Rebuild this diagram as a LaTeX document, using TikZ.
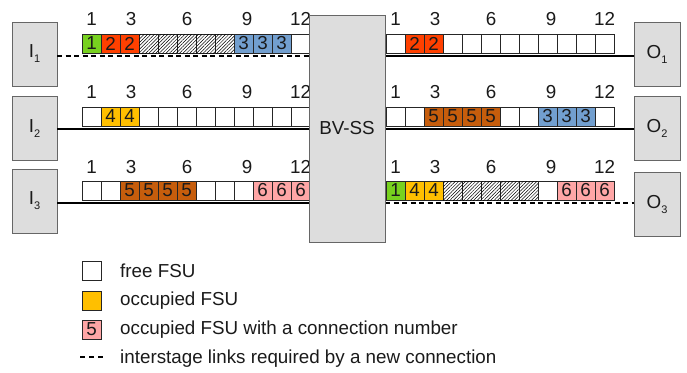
\documentclass[tikz,border=0pt]{standalone}
\usepackage{fontspec}
\setmainfont{Liberation Sans}
\usetikzlibrary{patterns.meta}
\definecolor{cgreen}{HTML}{77D11F}
\definecolor{cred}{HTML}{FF4000}
\definecolor{cblue}{HTML}{729FCF}
\definecolor{cyellow}{HTML}{FFBF00}
\definecolor{cbrown}{HTML}{C65D0C}
\definecolor{cpink}{HTML}{FFA6A6}
\definecolor{boxgray}{HTML}{DDDDDD}
\definecolor{txt}{HTML}{1A1A1A}
\newcommand\slotrow[4]{%
  \foreach \s/\n [count=\i] in {#4} {\node[slot,\s] (#1-\i) at ({#2+(\i-1)*19},#3) {\n};}}
\newcommand\sub[2]{#1\raisebox{-5pt}{\fontsize{11}{11}\selectfont #2}}
\begin{document}
\begin{tikzpicture}[x=1pt,y=-1pt,
  font=\fontsize{18.8}{22}\selectfont, text=txt,
  slot/.style={draw=black!85, line width=0.7pt, minimum width=19pt, minimum height=19pt,
    inner sep=0pt, outer sep=0pt, anchor=north west},
  fw/.style={fill=white}, fg/.style={fill=cgreen}, fr/.style={fill=cred},
  fb/.style={fill=cblue}, fy/.style={fill=cyellow}, fo/.style={fill=cbrown},
  fp/.style={fill=cpink},
  fh/.style={fill=white, postaction={pattern={Lines[angle=45,distance=2.4pt,line width=0.5pt]}}},
  gbox/.style={draw=black!60, fill=boxgray, line width=0.9pt, inner sep=0pt, outer sep=0pt},
  numlab/.style={inner sep=0pt},
  link/.style={line width=1.8pt},
  dlink/.style={line width=1.8pt, dash pattern=on 5pt off 3.5pt}]
\useasboundingbox (0,0) rectangle (687,372);

% input / output boxes
\node[gbox, minimum width=45pt, minimum height=64pt] (I1) at (34.5,54) {\sub{I}{1}};
\node[gbox, minimum width=45pt, minimum height=64pt] (I2) at (34.5,128.5) {\sub{I}{2}};
\node[gbox, minimum width=45pt, minimum height=64pt] (I3) at (34.5,201) {\sub{I}{3}};
\node[gbox, minimum width=46pt, minimum height=64pt] (O1) at (657,54) {\sub{O}{1}};
\node[gbox, minimum width=46pt, minimum height=64pt] (O2) at (657,128.5) {\sub{O}{2}};
\node[gbox, minimum width=46pt, minimum height=64pt] (O3) at (657,204) {\sub{O}{3}};

% slot rows
\slotrow{L1}{82}{34}{fg/1,fr/2,fr/2,fh/{},fh/{},fh/{},fh/{},fh/{},fb/3,fb/3,fb/3,fw/{}}
\slotrow{R1}{386}{34}{fw/{},fr/2,fr/2,fw/{},fw/{},fw/{},fw/{},fw/{},fw/{},fw/{},fw/{},fw/{}}
\slotrow{L2}{82}{107}{fw/{},fy/4,fy/4,fw/{},fw/{},fw/{},fw/{},fw/{},fw/{},fw/{},fw/{},fw/{}}
\slotrow{R2}{386}{107}{fw/{},fw/{},fo/5,fo/5,fo/5,fo/5,fw/{},fw/{},fb/3,fb/3,fb/3,fw/{}}
\slotrow{L3}{82}{181}{fw/{},fw/{},fo/5,fo/5,fo/5,fo/5,fw/{},fw/{},fw/{},fp/6,fp/6,fp/6}
\slotrow{R3}{386}{181}{fg/1,fy/4,fy/4,fh/{},fh/{},fh/{},fh/{},fh/{},fw/{},fp/6,fp/6,fp/6}

% slot index labels
\foreach \r/\yy in {L1/19,R1/19,L2/92,R2/92,L3/167,R3/167}{
  \foreach \k/\dx in {1/0,3/1.5,6/0.5,9/3.5,12/0}{
    \node[numlab] (N\r-\k) at ([xshift=\dx pt]\r-\k.center |- 0,\yy) {\k};
  }
}

% links
\draw[dlink] (I1.east |- 0,56) -- (309,56);
\draw[link] (I2.east |- 0,129) -- (309,129);
\draw[link] (I3.east |- 0,203) -- (309,203);
\draw[link] (385,56) -- (O1.west |- 0,56);
\draw[link] (385,129) -- (O2.west |- 0,129);
\draw[dlink] (385,203) -- (O3.west |- 0,203);

% switch
\node[gbox, minimum width=76pt, minimum height=227pt] (BV) at (347,128.5) {BV-SS};

% legend
\node[slot, fw] (LG1) at (82,261) {};
\node[slot, fy] (LG2) at (82,291) {};
\node[slot, fp] (LG3) at (82,320) {5};
\coordinate (LG4a) at (80,357);
\coordinate (LG4b) at (103,357);
\draw[line width=1.8pt, dash pattern=on 5pt off 4pt] (LG4a) -- (LG4b);
\node[anchor=west, inner sep=0pt] (T1) at (120,271) {free FSU};
\node[anchor=west, inner sep=0pt] (T2) at (120,301) {occupied FSU};
\node[anchor=west, inner sep=0pt] (T3) at (120,330) {occupied FSU with a connection number};
\node[anchor=west, inner sep=0pt] (T4) at (120,359) {interstage links required by a new connection};
\end{tikzpicture}
\end{document}
